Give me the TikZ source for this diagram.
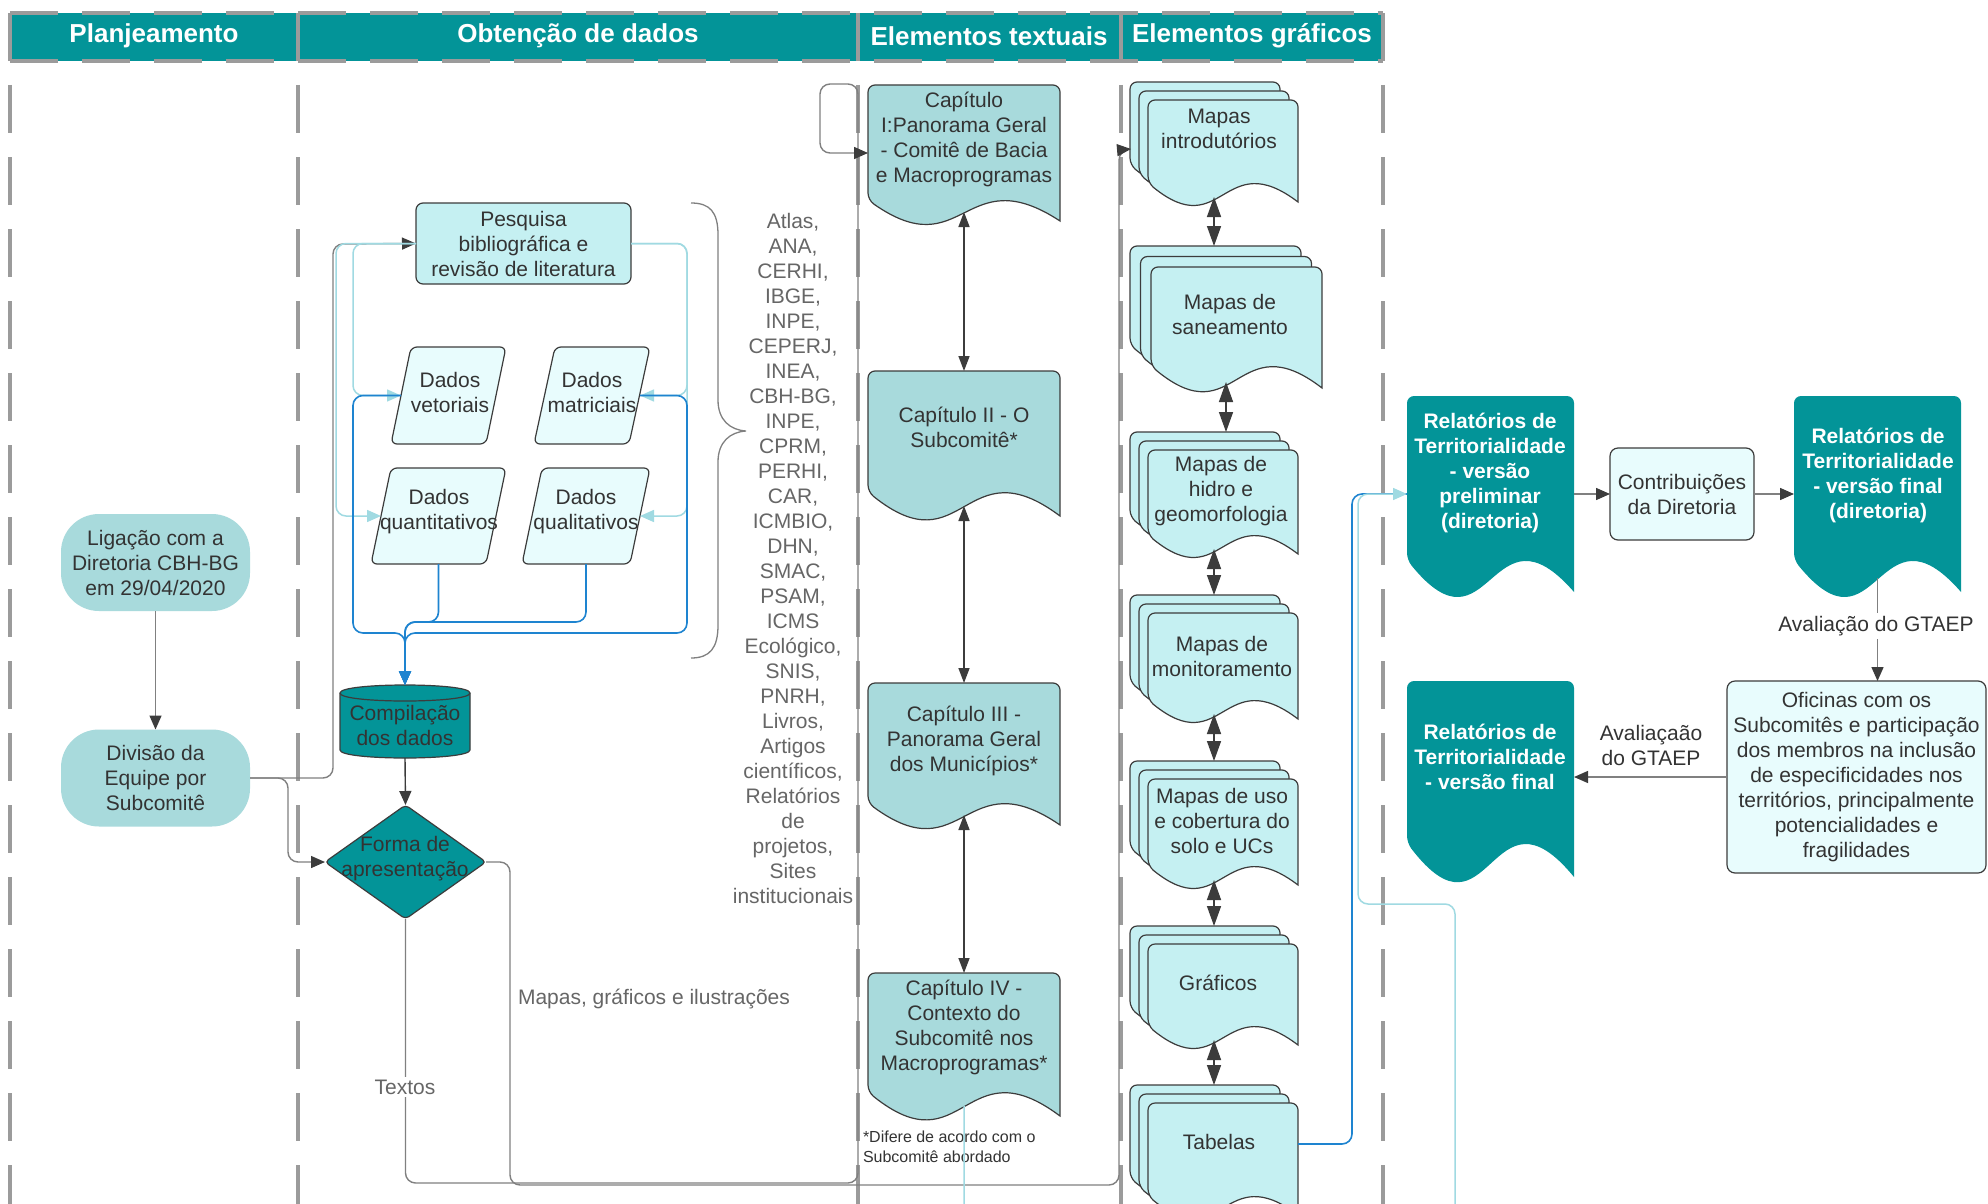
\documentclass[tikz,border=0pt]{standalone}
\usepackage{fontspec}
\setmainfont{Liberation Sans}
\usetikzlibrary{calc,shapes.geometric,arrows.meta}
\definecolor{teal1}{RGB}{3,148,152}
\definecolor{lteal}{RGB}{168,218,220}
\definecolor{lcyan}{RGB}{197,240,242}
\definecolor{vlcyan}{RGB}{232,252,253}
\definecolor{txtc}{RGB}{51,51,51}
\definecolor{srcc}{RGB}{102,102,102}
\definecolor{lanec}{RGB}{155,155,155}
\definecolor{blue1}{RGB}{30,132,208}
\definecolor{cyanl}{RGB}{160,218,226}
\definecolor{gline}{RGB}{128,128,128}
\definecolor{darkc}{RGB}{60,60,60}

% document shape drawn on the box of node #1; #2 wave amplitude; #3 style; #4,#5 canvas shift
\newcommand\docshape[5]{%
  \path[#3] let \p1=(#1.north west), \p2=(#1.south east) in
    ({\x2+(#4)},{\y2+(#5)}) [rounded corners=7pt]
    -- ({\x2+(#4)},{\y1+(#5)})
    -- ({\x1+(#4)},{\y1+(#5)})
    -- ({\x1+(#4)},{\y2+(#2)+(#5)}) [sharp corners]
    .. controls ({0.5*\x1+0.5*\x2+(#4)},{\y2-2.2*(#2)+(#5)}) and ({0.5*\x1+0.5*\x2+(#4)},{\y2+3*(#2)+(#5)}) .. ({\x2+(#4)},{\y2+(#5)}) -- cycle;}
\newcommand\stackdoc[3]{%
  \coordinate (#1b) at ($(#1.north west)+({-2*#3},{-2*#3})$);
  \docshape{#1}{#2}{stackfill}{-2*#3pt}{2*#3pt}%
  \docshape{#1}{#2}{stackfill}{-#3pt}{#3pt}%
  \docshape{#1}{#2}{stackfill}{0pt}{0pt}}
\newcommand\paral[2]{%
  \path[dadofill] let \p1=(#1.north west), \p2=(#1.south east) in
    [rounded corners=6pt] (\x1,\y2) -- ({\x2-#2},\y2) -- (\x2,\y1) -- ({\x1+#2},\y1) -- cycle;}

\tikzset{
  every node/.style={inner sep=0pt, outer sep=0pt, text=txtc, align=center, font=\fontsize{21}{25}\selectfont},
  lane/.style={draw=lanec, line width=4.5pt, dash pattern=on 48pt off 24pt},
  hdr/.style={text=white, font=\bfseries\fontsize{26}{30}\selectfont},
  term/.style={fill=lteal, rounded corners=38pt, minimum width=189pt, minimum height=97pt},
  procbox/.style={fill=lcyan, draw=darkc, line width=1.2pt, rounded corners=7pt},
  lightbox/.style={fill=vlcyan, draw=darkc, line width=1.2pt, rounded corners=8pt},
  chapfill/.style={fill=lteal, draw=darkc, line width=1.2pt},
  stackfill/.style={fill=lcyan, draw=darkc, line width=1.2pt},
  relfill/.style={fill=teal1},
  dadofill/.style={fill=vlcyan, draw=darkc, line width=1.2pt},
  reltxt/.style={text=white, font=\bfseries\fontsize{21}{25}\selectfont},
  src/.style={text=srcc},
  conn/.style={draw=gline, line width=1.4pt, rounded corners=10pt},
  gtip/.style={-{Triangle[length=14pt,width=12pt,color=darkc]}},
  dbl/.style={draw=darkc, line width=1.5pt, {Triangle[length=15pt,width=11pt]}-{Triangle[length=15pt,width=11pt]}},
  gdbl/.style={draw=darkc, line width=1.5pt, {Triangle[length=20pt,width=14pt]}-{Triangle[length=20pt,width=14pt]}},
  lcline/.style={draw=cyanl, line width=1.5pt, rounded corners=10pt},
  blline/.style={draw=blue1, line width=1.6pt, rounded corners=10pt},
  lctip/.style={-{Triangle[length=14pt,width=12pt,color=cyanl]}},
  bltip/.style={-{Triangle[length=14pt,width=12pt,color=blue1]}},
  lbl/.style={fill=white, inner sep=3pt},
}

\begin{document}
\begin{tikzpicture}[x=1pt,y=-1pt]
\useasboundingbox (0,0) rectangle (1988,1204);
\clip (0,0) rectangle (1988,1204);
\fill[white] (0,0) rectangle (1988,1204);

% ---------- lanes and header
\fill[teal1] (10,13) rectangle (1383,61);
\foreach \xx in {10,298,858,1121,1383} \draw[lane] (\xx,13) -- (\xx,1204);
\draw[lane] (10,13) -- (1383,13);
\draw[lane] (10,61) -- (1383,61);
\node[hdr] (h1) at (154,36) {Planjeamento};
\node[hdr] (h2) at (578,36) {Obtenção de dados};
\node[hdr] (h3) at (989,36) {Elementos textuais};
\node[hdr] (h4) at (1252,36) {Elementos gráficos};

% ---------- Planejamento
\node[term] (lig) at (155.5,562.5) {Ligação com a\\Diretoria CBH-BG\\em 29/04/2020};
\node[term] (div) at (155.5,778) {Divisão da\\Equipe por\\Subcomitê};

% ---------- Obtenção de dados
\node[procbox, minimum width=215pt, minimum height=81pt] (pesq) at (523.5,243.5) {Pesquisa\\bibliográfica e\\revisão de literatura};

\node[minimum width=115pt, minimum height=97pt] (vet) at (448.5,395.5) {};
\node[minimum width=116pt, minimum height=97pt] (mat) at (592,395.5) {};
\node[minimum width=135pt, minimum height=96pt] (quant) at (438.5,516) {};
\node[minimum width=128pt, minimum height=96pt] (qual) at (586,516) {};
\paral{vet}{20pt}
\paral{mat}{21pt}
\paral{quant}{20pt}
\paral{qual}{20pt}
\node (vett) at (450,392) {Dados\\vetoriais};
\node (matt) at (592,392) {Dados\\matriciais};
\node (quantt) at (439,512) {Dados\\quantitativos};
\node (qualt) at (586,512) {Dados\\qualitativos};

\node[minimum width=130pt, minimum height=73pt] (cmp) at (405,721.5) {};
\path[fill=teal1, draw=darkc, line width=1.2pt] let \p1=(cmp.north west), \p2=(cmp.south east) in
  (\x1,{\y1-8pt}) -- (\x1,{\y2+8pt}) .. controls (\x1,{\y2-2.67pt}) and (\x2,{\y2-2.67pt}) .. (\x2,{\y2+8pt})
  -- (\x2,{\y1-8pt}) .. controls (\x2,{\y1+2.67pt}) and (\x1,{\y1+2.67pt}) .. (\x1,{\y1-8pt}) -- cycle;
\path[draw=darkc, line width=1.2pt] let \p1=(cmp.north west), \p2=(cmp.south east) in
  (\x1,{\y1-8pt}) .. controls (\x1,{\y1-18.67pt}) and (\x2,{\y1-18.67pt}) .. (\x2,{\y1-8pt});
\node (cmpt) at (405,725) {Compilação\\dos dados};

\node[diamond, aspect=1.41, minimum width=161pt, minimum height=114pt, fill=teal1, draw=darkc, line width=1.2pt, rounded corners=4pt] (forma) at (405.5,862) {};
\node (format) at (405,859) {Forma de\\apresentação};

% brace and sources
\draw[gline, line width=1.3pt] (691,203) .. controls (710,203) and (718,212) .. (718,235) -- (718,400)
  .. controls (718,420) and (730,430) .. (746,431) .. controls (730,432) and (718,442) .. (718,462)
  -- (718,625) .. controls (718,648) and (710,658) .. (691,658);
\node[src] (fontes) at (793,558) {Atlas,\\ANA,\\CERHI,\\IBGE,\\INPE,\\CEPERJ,\\INEA,\\CBH-BG,\\INPE,\\CPRM,\\PERHI,\\CAR,\\ICMBIO,\\DHN,\\SMAC,\\PSAM,\\ICMS\\Ecológico,\\SNIS,\\PNRH,\\Livros,\\Artigos\\científicos,\\Relatórios\\de\\projetos,\\Sites\\institucionais};

% ---------- Elementos textuais
\node[minimum width=192pt, minimum height=136pt] (c1) at (964,153) {};
\node[minimum width=192pt, minimum height=145pt] (c2) at (964,443.5) {};
\node[minimum width=192pt, minimum height=142pt] (c3) at (964,754) {};
\node[minimum width=192pt, minimum height=143pt] (c4) at (964,1044.5) {};
\docshape{c1}{21pt}{chapfill}{0pt}{0pt}
\docshape{c2}{24pt}{chapfill}{0pt}{0pt}
\docshape{c3}{22pt}{chapfill}{0pt}{0pt}
\docshape{c4}{24pt}{chapfill}{0pt}{0pt}
\node (c1t) at (964,139) {Capítulo\\I:Panorama Geral\\- Comitê de Bacia\\e Macroprogramas};
\node (c2t) at (964,427) {Capítulo II - O\\Subcomitê*};
\node (c3t) at (964,741) {Capítulo III -\\Panorama Geral\\dos Municípios*};
\node (c4t) at (964,1027) {Capítulo IV -\\Contexto do\\Subcomitê nos\\Macroprogramas*};
\node[anchor=west, align=left, font=\fontsize{16}{19.5}\selectfont] (nota) at (863,1147) {*Difere de acordo com o\\Subcomitê abordado};

% ---------- Elementos gráficos
\node[minimum width=150pt, minimum height=102pt] (g1) at (1223,151) {};
\node[minimum width=171pt, minimum height=121pt] (g2) at (1236.5,327.5) {};
\node[minimum width=150pt, minimum height=104pt] (g3) at (1223,502) {};
\node[minimum width=150pt, minimum height=106pt] (g4) at (1223,666) {};
\node[minimum width=150pt, minimum height=106pt] (g5) at (1223,832) {};
\node[minimum width=150pt, minimum height=101pt] (g6) at (1223,994.5) {};
\node[minimum width=150pt, minimum height=112pt] (g7) at (1223,1159) {};
\stackdoc{g1}{19pt}{9}
\stackdoc{g2}{22pt}{10.5}
\stackdoc{g3}{19pt}{9}
\stackdoc{g4}{19pt}{9}
\stackdoc{g5}{19pt}{9}
\stackdoc{g6}{19pt}{9}
\stackdoc{g7}{19pt}{9}
\node (g1t) at (1219,129) {Mapas\\introdutórios};
\node (g2t) at (1230,314) {Mapas de\\saneamento};
\node (g3t) at (1221,491) {Mapas de\\hidro e\\geomorfologia};
\node (g4t) at (1222,656) {Mapas de\\monitoramento};
\node (g5t) at (1222,821) {Mapas de uso\\e cobertura do\\solo e UCs};
\node (g6t) at (1218,983) {Gráficos};
\node (g7t) at (1219,1142) {Tabelas};

% ---------- right part
\node[minimum width=167pt, minimum height=196pt] (rp) at (1490.5,494) {};
\node[minimum width=167pt, minimum height=196pt] (rfd) at (1877.5,494) {};
\node[minimum width=167pt, minimum height=196pt] (rf) at (1490.5,779) {};
\docshape{rp}{32pt}{relfill}{0pt}{0pt}
\docshape{rfd}{32pt}{relfill}{0pt}{0pt}
\docshape{rf}{34pt}{relfill}{0pt}{0pt}
\node[reltxt] (rpt) at (1490,473) {Relatórios de\\Territorialidade\\- versão\\preliminar\\(diretoria)};
\node[reltxt] (rfdt) at (1878,475) {Relatórios de\\Territorialidade\\- versão final\\(diretoria)};
\node[reltxt] (rft) at (1490,757) {Relatórios de\\Territorialidade\\- versão final};
\node[lightbox, minimum width=144pt, minimum height=92pt] (contrib) at (1682,494) {Contribuições\\da Diretoria};
\node[lightbox, minimum width=259pt, minimum height=192pt] (ofi) at (1856.5,777) {Oficinas com os\\Subcomitês e participação\\dos membros na inclusão\\de especificidades nos\\territórios, principalmente\\potencialidades e\\fragilidades};

% ---------- connectors
\draw[conn, gtip] (lig) -- (div);
\draw[conn, gtip] (div.east) -| (333,244) -- (pesq.west);
\draw[conn, gtip] (div.east) -| (288,862) -- (forma.west);
\draw[conn, gtip, draw=darkc] (cmp.south) -- (forma.north);

\draw[lcline, lctip] (pesq.west) -| ($(vet.west)+(-38,0)$) -- ($(vet.west)+(10,0)$);
\draw[lcline, lctip] (pesq.west) -| ($(quant.west)+(-35,0)$) -- ($(quant.west)+(10,0)$);
\draw[lcline, lctip] (pesq.east) -| ($(mat.east)+(37,0)$) -- ($(mat.east)+(-10,0)$);
\draw[lcline, lctip] (pesq.east) -| ($(qual.east)+(37,0)$) -- ($(qual.east)+(-10,0)$);

\draw[blline, bltip] ($(vet.west)+(10,0)$) -| (353,633) -| (cmp.north);
\draw[blline, bltip] ($(mat.east)+(-10,0)$) -| (687,633) -| (cmp.north);
\draw[blline, bltip] (quant.south) |- ($(cmp.north)+(0,-63)$) -- (cmp.north);
\draw[blline, bltip] (qual.south) |- ($(cmp.north)+(0,-63)$) -- (cmp.north);

\draw[conn, gtip] (forma.south) |- (858,1183) -- (858,84) -- (820,84) -- (820,153) -- (c1.west);
\node[lbl, src] (ltx) at (405,1087) {Textos};
\coordinate (g1in) at ($(g1b)+(1,67)$);
\draw[conn, gtip] (forma.east) -- (510,862) -- (510,1185) -- (1119,1185) -- (1119,150) -- (g1in);
\node[src, anchor=west] (lmap) at (518,999) {Mapas, gráficos e ilustrações};

\draw[dbl] ($(c1.south)+(0,-9)$) -- (c2.north);
\draw[dbl] ($(c2.south)+(0,-10)$) -- (c3.north);
\draw[dbl] ($(c3.south)+(0,-10)$) -- (c4.north);

\draw[gdbl] ($(g1.south)+(-9,-5)$) -- ($(g2b)+(84,0)$);
\draw[gdbl] ($(g2.south)+(-10.5,-6)$) -- ($(g3b)+(96,0)$);
\draw[gdbl] ($(g3.south)+(-9,-5)$) -- ($(g4b)+(84,0)$);
\draw[gdbl] ($(g4.south)+(-9,-5)$) -- ($(g5b)+(84,0)$);
\draw[gdbl] ($(g5.south)+(-9,-5)$) -- ($(g6b)+(84,0)$);
\draw[gdbl] ($(g6.south)+(-9,-5)$) -- ($(g7b)+(84,0)$);

\draw[blline] ($(g7.east)+(0,-15)$) -| (1352,494) -- (rp.west);
\draw[lcline, lctip] ($(c4.south)+(0,-10)$) -- (964,1240) -- (1455,1240) -- (1455,904) -- (1358,904) -- (1358,494) -- (rp.west);

\draw[conn, gtip] (rp.east) -- (contrib.west);
\draw[conn, gtip] (contrib.east) -- (rfd.west);
\draw[conn, gtip] ($(rfd.south)+(0,-14)$) -- (rfd.south |- ofi.north);
\node[lbl] (lav1) at (1876,626) {Avaliação do GTAEP};
\draw[conn, gtip] (ofi.west) -- (rf.east |- ofi.west);
\node (lav2) at (1651,745) {Avaliaçaão\\do GTAEP};
\end{tikzpicture}
\end{document}
